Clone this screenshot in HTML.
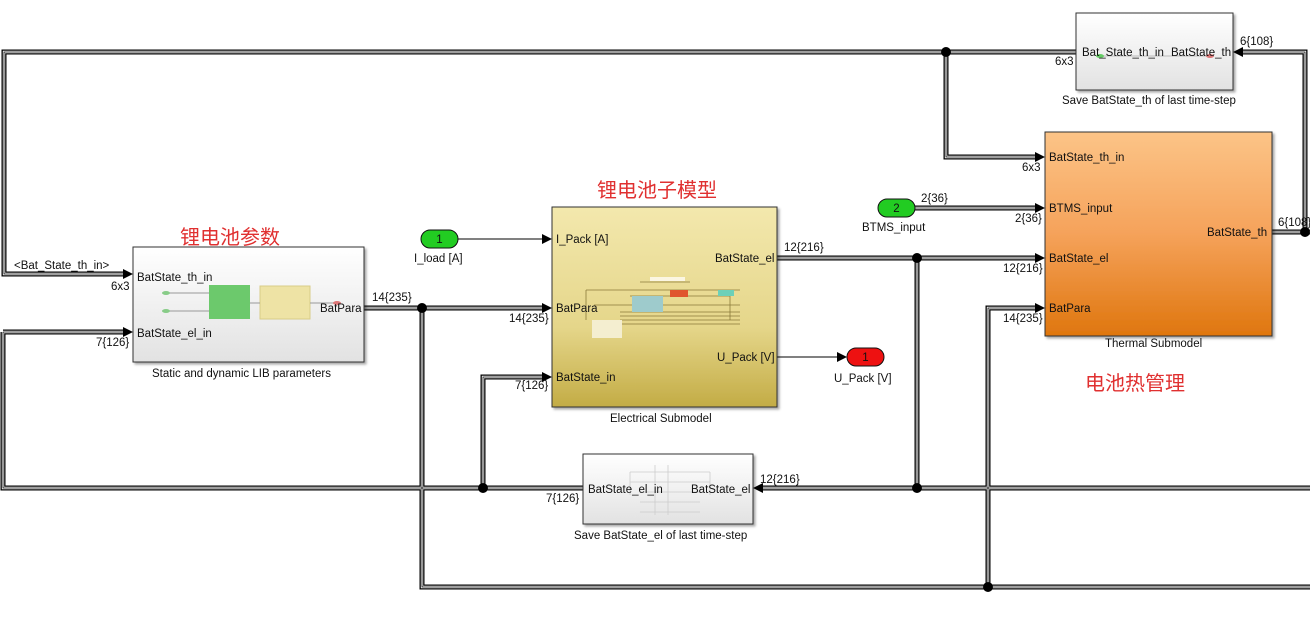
<!DOCTYPE html>
<html><head><meta charset="utf-8">
<style>
body{margin:0;background:#fff;}
svg{display:block;font-family:"Liberation Sans","Noto Sans CJK SC",sans-serif;}
.t{font-size:11.5px;fill:#111;}
.cn{font-size:20px;fill:#e03030;font-family:"Liberation Sans","Noto Sans CJK SC",sans-serif;}
.b1{fill:none;stroke:#000;stroke-width:5;}
.b2{fill:none;stroke:#fff;stroke-width:2.4;}
.b3{fill:none;stroke:#000;stroke-width:0.8;}
</style></head><body>
<svg width="1310" height="632" viewBox="0 0 1310 632">
<defs>
<linearGradient id="gw" x1="0" y1="0" x2="0" y2="1"><stop offset="0" stop-color="#fff"/><stop offset="1" stop-color="#e2e2e2"/></linearGradient>
<linearGradient id="gy" x1="0" y1="0" x2="0" y2="1"><stop offset="0" stop-color="#f3e8ad"/><stop offset="0.6" stop-color="#e5d68a"/><stop offset="1" stop-color="#c3ac45"/></linearGradient>
<linearGradient id="go" x1="0" y1="0" x2="0" y2="1"><stop offset="0" stop-color="#fcc487"/><stop offset="0.5" stop-color="#f5a25a"/><stop offset="1" stop-color="#df760e"/></linearGradient>
<filter id="sh"><feDropShadow dx="2" dy="2" stdDeviation="1.2" flood-color="#000" flood-opacity="0.35"/></filter>
</defs>
<g id="buses">
<path d="M1076 52 H4 V274 H128 M946 52 V157 H1040 M1305 232 V52 H1238 M1272 232 H1310 M364 308 H547 M422 308 V587 H1310 M988 587 V308 H1040 M3 332 H128 M3 332 V488 H583 M483 488 V377 H547 M777 258 H1040 M917 258 V488 M1310 488 H762" class="b1"/>
<path d="M1076 52 H4 V274 H128 M946 52 V157 H1040 M1305 232 V52 H1238 M1272 232 H1310 M364 308 H547 M422 308 V587 H1310 M988 587 V308 H1040 M3 332 H128 M3 332 V488 H583 M483 488 V377 H547 M777 258 H1040 M917 258 V488 M1310 488 H762" class="b2"/>
<path d="M1076 52 H4 V274 H128 M946 52 V157 H1040 M1305 232 V52 H1238 M1272 232 H1310 M364 308 H547 M422 308 V587 H1310 M988 587 V308 H1040 M3 332 H128 M3 332 V488 H583 M483 488 V377 H547 M777 258 H1040 M917 258 V488 M1310 488 H762" class="b3"/>
<path d="M915 208 H1040" class="b1"/><path d="M915 208 H1040" class="b2"/><path d="M915 208 H1040" class="b3"/>
</g>
<path d="M458 239 H547 M777 357 H842" stroke="#000" stroke-width="1" fill="none"/>
<g fill="#000">
<polygon points="133,274 123,269 123,279"/><polygon points="133,332 123,327 123,337"/>
<polygon points="552,239 542,234 542,244"/><polygon points="552,308 542,303 542,313"/><polygon points="552,377 542,372 542,382"/>
<polygon points="847,357 837,352 837,362"/>
<polygon points="1045,157 1035,152 1035,162"/><polygon points="1045,208 1035,203 1035,213"/><polygon points="1045,258 1035,253 1035,263"/><polygon points="1045,308 1035,303 1035,313"/>
<polygon points="1233,52 1243,47 1243,57"/><polygon points="753,488 763,483 763,493"/>
<circle cx="946" cy="52" r="5"/><circle cx="1305" cy="232" r="5"/><circle cx="422" cy="308" r="5"/><circle cx="483" cy="488" r="5"/><circle cx="917" cy="258" r="5"/><circle cx="917" cy="488" r="5"/><circle cx="988" cy="587" r="5"/>
</g>
<rect x="133" y="247" width="231" height="115" fill="url(#gw)" stroke="#333" filter="url(#sh)"/>
<rect x="209" y="285" width="41" height="34" fill="#6cc96c"/><rect x="260" y="286" width="50" height="33" fill="#eee3a5" stroke="#d8cc88"/>
<path d="M166 293 H209 M166 311 H209 M250 303 H260 M310 303 H340" stroke="#999" stroke-width="1"/>
<ellipse cx="166" cy="293" rx="4" ry="2" fill="#8c8"/><ellipse cx="166" cy="311" rx="4" ry="2" fill="#8c8"/><ellipse cx="337" cy="303" rx="4" ry="2" fill="#d77"/>
<rect x="552" y="207" width="225" height="200" fill="url(#gy)" stroke="#333" filter="url(#sh)"/>
<g stroke="#8a7a3a" stroke-width="0.8" fill="none"><path d="M586 290 H740 M594 305 H740 M620 312 H740 M620 316 H740 M620 320 H740 M620 324 H740 M630 296 H730 V320 M640 282 H690 M586 290 V320"/></g>
<rect x="632" y="296" width="31" height="16" fill="#9ecbcc"/><rect x="670" y="290" width="18" height="7" fill="#e0552e"/><rect x="718" y="290" width="16" height="6" fill="#6cd0b8"/><rect x="592" y="320" width="30" height="18" fill="#f4eed0"/><rect x="650" y="277" width="35" height="4" fill="#fbf6e2"/>
<rect x="1045" y="132" width="227" height="204" fill="url(#go)" stroke="#333" filter="url(#sh)"/>
<rect x="1076" y="13" width="157" height="77" fill="url(#gw)" stroke="#333" filter="url(#sh)"/>
<path d="M1100 56 H1210" stroke="#aaa" stroke-width="0.8"/><ellipse cx="1100" cy="56" rx="4" ry="2" fill="#6c6"/><ellipse cx="1210" cy="56" rx="4" ry="2" fill="#d77"/>
<rect x="583" y="454" width="170" height="70" fill="url(#gw)" stroke="#333" filter="url(#sh)"/>
<g stroke="#ccc" stroke-width="0.8" fill="none"><path d="M630 472 H710 M630 482 H710 M640 492 H700 M640 502 H700 M640 512 H700 M630 472 V495 M710 472 V495 M655 465 V515 M668 465 V515"/></g>
<rect x="421" y="230" width="37" height="18" rx="9" fill="#22cc22" stroke="#111"/><text x="439.5" y="243" class="t" text-anchor="middle">1</text>
<rect x="878" y="199" width="37" height="18" rx="9" fill="#22cc22" stroke="#111"/><text x="896.5" y="212" class="t" text-anchor="middle">2</text>
<rect x="847" y="348" width="37" height="18" rx="9" fill="#ee1111" stroke="#111"/><text x="865.5" y="361" class="t" text-anchor="middle">1</text>
<g class="t">
<text x="14" y="269">&lt;Bat_State_th_in&gt;</text>
<text x="111" y="290">6x3</text><text x="96" y="346">7{126}</text>
<text x="137" y="281">BatState_th_in</text><text x="137" y="337">BatState_el_in</text><text x="320" y="312">BatPara</text>
<text x="152" y="377">Static and dynamic LIB parameters</text>
<text x="372" y="301">14{235}</text>
<text x="414" y="262">I_load [A]</text>
<text x="556" y="243">I_Pack [A]</text><text x="556" y="312">BatPara</text><text x="556" y="381">BatState_in</text>
<text x="715" y="262">BatState_el</text><text x="717" y="361">U_Pack [V]</text>
<text x="509" y="322">14{235}</text><text x="515" y="389">7{126}</text>
<text x="610" y="422">Electrical Submodel</text>
<text x="784" y="251">12{216}</text>
<text x="834" y="382">U_Pack [V]</text>
<text x="921" y="202">2{36}</text><text x="862" y="231">BTMS_input</text>
<text x="1015" y="222">2{36}</text><text x="1022" y="171">6x3</text><text x="1003" y="272">12{216}</text><text x="1003" y="322">14{235}</text>
<text x="1049" y="161">BatState_th_in</text><text x="1049" y="212">BTMS_input</text><text x="1049" y="262">BatState_el</text><text x="1049" y="312">BatPara</text>
<text x="1207" y="236">BatState_th</text>
<text x="1105" y="347">Thermal Submodel</text>
<text x="1278" y="226">6{108}</text><text x="1240" y="45">6{108}</text>
<text x="1055" y="65">6x3</text>
<text x="1082" y="56">Bat_State_th_in</text><text x="1171" y="56">BatState_th</text>
<text x="1062" y="104">Save BatState_th of last time-step</text>
<text x="588" y="493">BatState_el_in</text><text x="691" y="493">BatState_el</text>
<text x="760" y="483">12{216}</text><text x="546" y="502">7{126}</text>
<text x="574" y="539">Save BatState_el of last time-step</text>
</g>
<text x="180" y="244" class="cn">锂电池参数</text>
<text x="597" y="197" class="cn">锂电池子模型</text>
<text x="1085" y="390" class="cn">电池热管理</text>
</svg>
</body></html>
